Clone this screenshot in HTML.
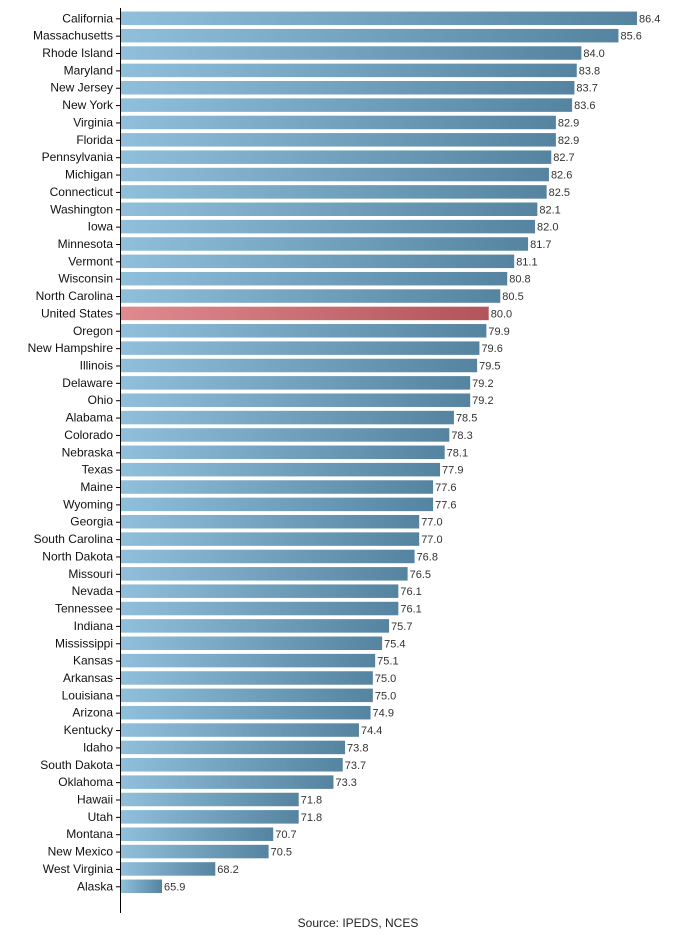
<!DOCTYPE html>
<html><head><meta charset="utf-8"><style>
body{margin:0;background:#fff;}
svg{display:block;font-family:"Liberation Sans",sans-serif;}
</style></head><body>
<svg width="695" height="948">
<defs>
<linearGradient id="gb" x1="0" x2="1"><stop offset="0" stop-color="#8fbfdb"/><stop offset="1" stop-color="#5584a0"/></linearGradient>
<linearGradient id="gr" x1="0" x2="1"><stop offset="0" stop-color="#e08a8e"/><stop offset="1" stop-color="#b2545a"/></linearGradient>
</defs>
<g id="bars"></g>
<line x1="120.5" y1="8" x2="120.5" y2="913" stroke="#000" stroke-width="1"/>
<text x="358" y="927" font-size="12" text-anchor="middle" fill="#222">Source: IPEDS, NCES</text>
</svg>
<script>
const categories=["California","Massachusetts","Rhode Island","Maryland","New Jersey","New York","Virginia","Florida","Pennsylvania","Michigan","Connecticut","Washington","Iowa","Minnesota","Vermont","Wisconsin","North Carolina","United States","Oregon","New Hampshire","Illinois","Delaware","Ohio","Alabama","Colorado","Nebraska","Texas","Maine","Wyoming","Georgia","South Carolina","North Dakota","Missouri","Nevada","Tennessee","Indiana","Mississippi","Kansas","Arkansas","Louisiana","Arizona","Kentucky","Idaho","South Dakota","Oklahoma","Hawaii","Utah","Montana","New Mexico","West Virginia","Alaska"];
const values=[86.4,85.6,84.0,83.8,83.7,83.6,82.9,82.9,82.7,82.6,82.5,82.1,82.0,81.7,81.1,80.8,80.5,80.0,79.9,79.6,79.5,79.2,79.2,78.5,78.3,78.1,77.9,77.6,77.6,77.0,77.0,76.8,76.5,76.1,76.1,75.7,75.4,75.1,75.0,75.0,74.9,74.4,73.8,73.7,73.3,71.8,71.8,70.7,70.5,68.2,65.9];
const highlight="United States";
const xMin=64.13, pxPer=23.17, x0=121;
const xs=v=>x0+(v-xMin)*pxPer;
const yTop=18.3, pitch=17.36, bh=13.5;
const ys=i=>yTop+i*pitch;
const NS="http://www.w3.org/2000/svg";
const g=document.getElementById('bars');
categories.forEach((c,i)=>{
  const cy=ys(i), v=values[i];
  const r=document.createElementNS(NS,'rect');
  r.setAttribute('x',x0);r.setAttribute('y',cy-bh/2);
  r.setAttribute('width',xs(v)-x0);r.setAttribute('height',bh);
  r.setAttribute('fill',c===highlight?'url(#gr)':'url(#gb)');
  
  
  g.appendChild(r);
  const t=document.createElementNS(NS,'text');
  t.setAttribute('x',113);t.setAttribute('y',cy+4);t.setAttribute('font-size','12');
  t.setAttribute('text-anchor','end');t.setAttribute('fill','#111');
  t.textContent=c;
  
  
  g.appendChild(t);
  const tk=document.createElementNS(NS,'line');
  tk.setAttribute('x1',116);tk.setAttribute('x2',120);tk.setAttribute('y1',cy+0.5);tk.setAttribute('y2',cy+0.5);
  tk.setAttribute('stroke','#000');
  
  
  g.appendChild(tk);
  const vl=document.createElementNS(NS,'text');
  vl.setAttribute('x',xs(v)+2);vl.setAttribute('y',cy+4);vl.setAttribute('font-size','11');
  vl.setAttribute('fill','#333');
  vl.textContent=v.toFixed(1);
  
  
  g.appendChild(vl);
});
</script>
</body></html>
